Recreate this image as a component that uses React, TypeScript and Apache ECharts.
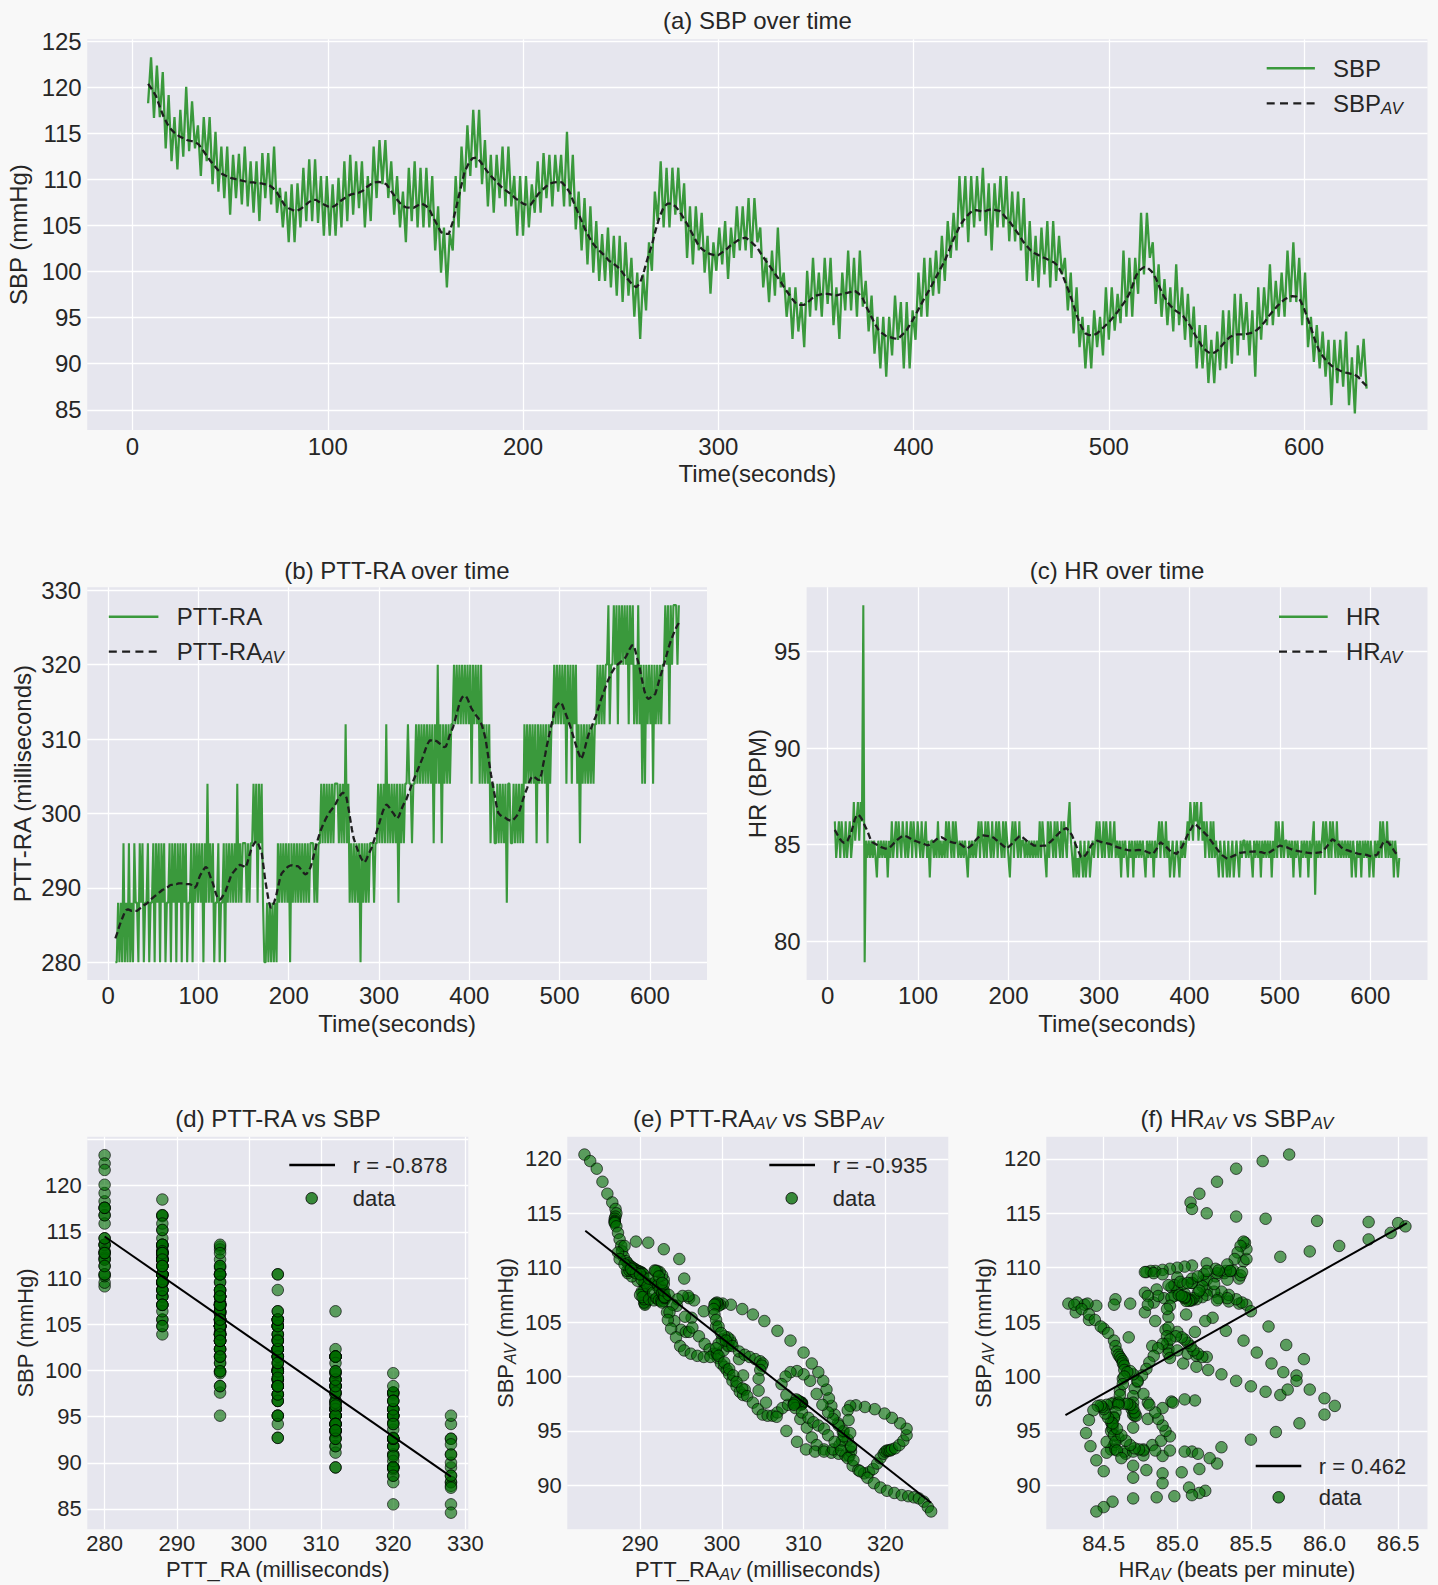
import React, { useEffect, useRef } from 'react';
import * as echarts from 'echarts';

// ---------------- DATA ----------------
const T0 = 8;          // first sample time (s)
const RAW_DT = 1.5;    // raw sample spacing (s)
const AV_DT = 2;       // averaged sample spacing (s)

const SBP = [
  118.3, 123.3, 116.7, 122.4, 116.8, 121.7, 113.4, 119.2, 112, 116.8,
  111.1, 117.6, 112.5, 120.1, 113.1, 118.5, 113.4, 115.9, 110.4, 116.8,
  112, 116.8, 109.5, 115.2, 108.7, 113.6, 108, 113.6, 106.2, 112.7,
  108, 112.8, 107.3, 113.6, 107.1, 112, 106.4, 112, 105.5, 112.9,
  108, 112.9, 107.3, 113.6, 106.4, 109.1, 104.8, 108.7, 103.2, 109.5,
  103.2, 109.6, 104.8, 111.3, 105.5, 112.2, 105.5, 112.2, 105.3, 110.4,
  103.9, 110.4, 103.9, 109.5, 103.9, 110.2, 104.8, 112, 105.5, 112.7,
  106.2, 112, 106.9, 112, 104.8, 110.4, 105.5, 113.6, 108, 114.3,
  109.5, 114.3, 108, 112, 106.2, 110.4, 104.8, 108.7, 103.2, 111.3,
  105.5, 112, 104.8, 111.3, 104.8, 111.3, 104.8, 110.4, 102.3, 107.1,
  99.9, 104.8, 98.3, 104.1, 102.3, 110.4, 104.8, 113.6, 108.7, 115.9,
  110.4, 117.6, 111.3, 117.6, 109.5, 114.3, 107.1, 112.7, 106.4, 112.7,
  108, 113.6, 107.1, 113.6, 107.1, 110.4, 103.9, 110.4, 103.9, 110.4,
  104.8, 109.5, 106.4, 112, 106.4, 112.9, 108, 112.7, 107.1, 112.7,
  108.7, 112.7, 107.1, 115.2,
  107.1, 112.7, 104.6, 108.7, 102.3, 108, 100.8, 107.1, 99.9, 105.5,
  99, 104.1, 99, 104.8, 98.3, 103.9, 97.4, 103.9, 96.7, 103.2,
  97.4, 101.5, 95.1, 99.9, 92.7, 99.7, 95.8, 103.2, 100.1, 108.7,
  105.5, 112, 104.8, 111.3, 104.8, 111.3, 106.2, 111.3, 105.5, 109.6,
  101.5, 107.1, 100.8, 107.1, 102.3, 106.4, 99.9, 103.9, 97.6, 103.2,
  100.1, 104.8, 100.8, 105.5, 99.2, 104.8, 101.5, 107.1, 102.3, 107.1,
  102.3, 108, 101.5, 108, 103.2, 104.8, 98.3, 101.5, 96.7, 102.3,
  97.4, 104.8, 98.3, 99.9, 95.1, 98.3, 92.7, 98.3, 93.5, 96.7,
  91.8, 100.1, 95.1, 101.5, 95.8, 99.9, 95.1, 101.5, 96.5, 101.5,
  94.2, 98.3, 92.7, 99.9, 95.8, 102.3, 95.8, 101.5, 95.1, 102.3,
  96.2, 99, 93.5, 97.4, 91.1, 95.1, 89.5, 95.1, 88.6, 95.1,
  90.9, 97.4, 92.6, 96.7, 89.5, 96.7, 89.5, 95.8, 92.6, 99.9,
  95.1, 101.5, 95.1, 101.5, 97.4, 102.3, 97.6, 103.9, 99, 105.5,
  101.5, 106.4, 102.3, 110.4, 104.8, 110.4, 103.2, 110.4, 104.8, 110.4,
  105.5, 111.3, 103.9, 109.6, 102.3, 109.6, 104.8,
  110.4, 104.8, 110.4, 103.3, 108.7, 103.3, 108.7, 102.3, 108, 99,
  105.5, 99, 103.9, 98.3, 104.8, 99.7, 105.5, 98.3, 105.5, 99,
  103.9, 99.7, 101.5, 95.8, 99.9, 93.3, 98.3, 91.8, 95.1, 89.5,
  94.2, 89.5, 95.8, 91.8, 95.1, 90.9, 98.3, 92.6, 98.3, 93.6,
  97.6, 94.4, 102.3, 95.1, 101.5, 95.1, 101.5, 97.6, 106.4, 99.7,
  106.4, 101.5, 103.2, 96.5, 100.8, 95.1, 99.2, 94.2, 98.3, 93.5,
  100.8, 94.2, 98.3, 92.6, 97.6, 91.8, 96.2, 89.5, 94.2, 89.5,
  94.2, 87.9, 92.6, 87.9, 93.5, 89.3, 95.8, 89.5, 95.8, 90.0,
  97.6, 90.9, 97.6, 92.6, 96.7, 90.9, 95.8, 88.6, 98.3, 92.6,
  98.3, 94.2, 100.8, 94.2, 99, 95.1, 99.9, 95.1, 102.3, 96.7,
  103.2, 96.7, 101.5, 94.2, 99.9, 91.8, 95.1, 90.2, 94.2, 89.5,
  93.5, 88.6, 92.6, 85.5, 92.6, 87.9, 92.6, 87.5, 93.5, 85.5,
  90.7, 84.6, 92, 88.6, 92.7, 87.3,
];

const PTT_RA = [
  280, 280, 288, 280, 288, 280, 296, 280, 288, 280, 296, 280, 288, 280, 296, 288, 288, 280, 296, 288, 296, 280, 288, 288, 296, 280, 288,
  288, 296, 280, 296, 288, 296, 280, 296, 288, 296, 280, 288, 288, 296, 280, 296, 288, 296, 280, 296, 288, 296, 280, 296, 288, 296, 280, 288, 288, 296, 280, 296, 288, 296, 288,
  296, 288, 296, 280, 296, 288, 304, 288, 296, 288, 296, 280, 288, 288, 296, 280, 288, 288, 296, 280,
  296, 288, 296, 288, 296, 288, 296, 288, 304, 288, 296, 288, 296, 296, 296, 288, 296, 288, 296, 296, 304, 296, 304, 288, 304, 296, 304, 288,
  280, 280, 288, 280, 288, 280, 288, 280, 288, 280,
  296, 288, 296, 288, 296, 288, 296, 288, 296, 280, 296, 288, 296, 288, 296, 288, 296, 288, 296, 288, 296, 288, 296, 288, 296, 296, 296, 288, 296, 288, 296, 296, 304, 296,
  304, 296, 304, 296, 304, 296, 304, 296, 304, 304, 304, 296, 304, 296, 304, 296, 312, 296, 304, 288, 296, 288, 296,
  288, 296, 288, 296, 280, 296, 288, 296, 288, 296, 288, 296, 296, 296, 288, 296,
  296, 304, 296, 304, 296, 304, 296, 312, 296, 304, 296, 304, 296, 304, 296, 304, 288, 304, 296, 304, 296, 304, 304, 312, 304, 304, 296, 304,
  304, 312, 304, 312, 304, 312, 304, 312, 304, 312, 304, 312, 304, 312, 296, 312, 304, 320, 304, 312, 296, 312,
  304, 312, 304, 312, 304, 312, 312, 320, 312, 320, 312, 320, 312, 320, 312, 320, 312, 320, 312, 320, 304, 320, 312, 320, 312, 320, 304, 320,
  304, 312, 304, 312, 304, 312,
  296, 304, 304, 296, 296, 304, 296, 304, 296, 304, 296, 304, 288, 304, 304, 296, 296, 304, 296, 304, 296, 304, 296, 304, 296, 312, 304, 312,
  304, 312, 304, 312, 304, 312, 296, 312, 304, 312, 304, 312, 304, 312, 296, 312, 304, 312,
  312, 320, 312, 320, 312, 320, 312, 320, 312, 320, 304, 320, 312, 320, 304, 320, 312, 320, 304, 312,
  296, 312, 304, 312, 304, 312, 304, 312, 304, 312, 304, 312,
  312, 320, 312, 320, 312, 320, 312, 320, 320, 328, 312, 320,
  320, 328, 320, 328, 312, 328, 320, 328, 320, 328, 320, 328, 312, 328, 320, 328, 312,
  320, 312, 328, 312, 320, 304, 320, 304, 320, 312, 320, 312, 320, 304, 320, 312, 320, 312, 320, 312, 320,
  320, 328, 320, 328, 312, 328, 320, 328, 328, 328, 320, 328,
];

const HR = [
  86.2, 84.3, 85.2, 86.2, 84.3, 86.2, 85.2, 84.3, 86.2, 84.3, 85.2, 86.2, 84.3, 85.2,
  87.2, 85.2, 86.2, 87.2, 85.2, 87.2, 86.2, 97.4, 78.9,
  85.2, 84.3, 85.2, 84.3, 85.2, 84.3, 85.2, 84.3, 83.3, 85.2, 84.3, 85.2, 84.3, 85.2, 84.3, 85.2, 83.3, 85.2, 84.3,
  86.2, 84.3, 85.2, 86.2, 84.3, 86.2, 85.2, 84.3, 86.2, 85.2, 84.3, 86.2, 84.3, 85.2, 86.2, 84.3, 86.2, 85.2, 84.3, 86.2, 85.2, 84.3, 86.2, 84.3, 85.2, 86.2, 84.3, 85.2, 83.3, 85.2,
  85.2, 84.3, 85.2, 84.3, 86.2, 84.3, 85.2, 84.3, 85.2, 84.3,
  86.2, 84.3, 86.2, 85.2, 84.3, 86.2, 84.3, 86.2, 85.2, 84.3,
  85.2, 84.3, 85.2, 84.3, 85.2, 84.3, 83.3, 85.2, 84.3, 85.2, 84.3, 85.2, 84.3, 85.2,
  86.2, 84.3, 86.2, 85.2, 84.3, 86.2, 84.3, 86.2, 85.2, 84.3, 86.2, 84.3, 85.2, 86.2, 84.3, 86.2, 85.2, 84.3, 86.2, 84.3, 86.2, 85.2, 84.3, 83.3, 85.2, 86.2, 84.3, 86.2, 85.2, 84.3, 86.2, 84.3, 85.2,
  85.2, 84.3, 85.2, 84.3, 85.2, 84.3, 85.2, 84.3, 85.2, 84.3, 85.2, 84.3,
  86.2, 84.3, 86.2, 85.2, 84.3, 83.3, 86.2, 84.3, 86.2, 85.2, 84.3, 86.2, 84.3, 86.2, 85.2, 84.3, 86.2, 84.3, 86.2, 85.2, 84.3, 86.2, 87.2, 85.2,
  84.3, 83.3, 85.2, 83.3, 84.3, 83.3, 85.2, 84.3, 83.3, 85.2, 83.3, 84.3, 85.2, 83.3, 84.3, 85.2, 84.3, 85.2,
  86.2, 84.3, 86.2, 85.2, 84.3, 86.2, 84.3, 86.2, 85.2, 84.3, 86.2, 84.3, 85.2, 86.2, 84.3, 85.2, 84.3,
  85.2, 83.3, 85.2, 84.3, 85.2, 84.3, 83.3, 85.2, 84.3, 85.2, 83.3, 85.2, 84.3, 85.2, 84.3, 85.2, 84.3, 85.2, 84.3, 83.3, 85.2, 84.3, 85.2, 84.3, 85.2, 83.3, 85.2, 84.3, 85.2,
  86.2, 84.3, 86.2, 85.2, 84.3, 86.2, 84.3,
  85.2, 83.3, 84.3, 85.2, 83.3, 84.3, 85.2, 84.3, 83.3, 85.2, 84.3, 85.2, 84.3, 85.2,
  86.2, 85.2, 87.2, 86.2, 85.2, 87.2, 86.2, 87.2, 85.2, 86.2, 87.2, 85.2, 86.2, 84.3, 86.2, 85.2, 84.3,
  86.2, 84.3, 86.2, 84.3, 85.2,
  84.3, 83.3, 85.2, 84.3, 83.3, 85.2, 84.3, 83.3, 85.2, 83.3, 84.3, 85.2, 83.3, 84.3, 85.2, 84.3, 83.3, 85.2, 84.3, 85.2,
  85.2, 84.3, 85.2, 84.3, 85.2, 84.3, 83.3, 85.2, 84.3, 85.2, 84.3, 85.2, 83.3, 85.2, 84.3, 85.2, 84.3, 85.2, 84.3, 85.2, 83.3, 85.2, 84.3,
  86.2, 84.3, 86.2, 85.2, 84.3, 86.2, 84.3, 85.2,
  85.2, 84.3, 85.2, 84.3, 85.2, 83.3, 85.2, 84.3, 85.2, 84.3, 83.3, 85.2, 84.3, 85.2, 84.3, 85.2, 83.3, 85.2, 84.3, 85.2,
  86.2, 82.4, 85.2, 84.3,
  85.2, 84.3, 85.2, 86.2, 84.3, 86.2, 85.2, 84.3, 86.2, 84.3, 86.2, 85.2, 84.3, 86.2, 84.3,
  85.2, 84.3, 85.2, 84.3, 85.2, 84.3, 85.2, 84.3, 85.2, 83.3, 85.2, 84.3, 83.3, 85.2, 84.3, 85.2, 83.3, 85.2, 84.3, 85.2, 84.3, 85.2, 83.3, 85.2, 84.3, 83.3, 85.2, 84.3, 85.2, 84.3,
  86.2, 84.3, 86.2, 85.2, 84.3, 86.2, 84.3, 85.2, 84.3,
  85.2, 83.3, 85.2, 84.3, 83.3, 84.3,
];

const SBP_AV = [
  120.4, 119.8, 119.1, 117.9, 116.8, 116.0, 115.4, 115.0, 114.7, 114.5,
  114.3, 114.2, 114.1, 113.8, 113.2, 112.6, 112.0, 111.5, 111.0, 110.6,
  110.4, 110.2, 110.1, 110.0, 109.9, 109.8, 109.7, 109.7, 109.6, 109.6,
  109.5, 109.4, 109.1, 108.6, 107.9, 107.2, 106.9, 106.7, 106.6, 106.8,
  107.1, 107.5, 107.8, 107.8, 107.5, 107.3, 107.1, 107.0, 107.2, 107.6,
  107.9, 108.2, 108.4, 108.5, 108.6, 108.8, 109.2, 109.5, 109.7, 109.75,
  109.7, 109.5, 108.9, 108.3, 107.7, 107.2, 107.0, 106.95, 106.95, 107.2,
  107.4, 107.2, 106.8, 105.9, 105.1, 104.3, 104.1, 104.1, 105.4, 107.2,
  109.0, 110.8, 111.7, 112.3, 112.4, 112.0, 111.4, 110.8, 110.3, 109.9,
  109.4, 109.0, 108.7, 108.4, 108.0, 107.7, 107.4, 107.25, 107.3, 107.9,
  108.5, 108.9, 109.3, 109.6, 109.7, 109.75, 109.7, 109.2, 108.6, 107.5,
  106.5, 105.5, 104.5, 103.7, 103.0, 102.5, 102.1, 101.7, 101.2, 100.9,
  100.6, 100.2, 99.6, 99.1, 98.6, 98.3, 98.8, 100.1, 101.6, 102.9,
  104.6, 106.0, 107.0, 107.4, 107.4, 107.1, 106.6, 105.9, 105.2, 104.4,
  103.6, 102.8, 102.4, 102.1, 101.9, 101.8, 101.8, 102.1, 102.4, 102.8,
  103.1, 103.4, 103.6, 103.7, 103.4, 103.0, 102.6, 101.9, 101.3, 100.7,
  100.1, 99.5, 98.9, 98.2, 97.6, 97.0, 96.5, 96.4, 96.4, 96.7,
  97.1, 97.4, 97.5, 97.6, 97.6, 97.5, 97.4, 97.5, 97.6, 97.7,
  97.8, 97.9, 97.6, 97.1, 96.1, 95.3, 94.4, 93.7, 93.3, 93.0,
  92.9, 92.75, 92.7, 93.1, 93.5, 94.2, 94.9, 95.7, 96.5, 97.3,
  98.0, 98.8, 99.6, 100.4, 101.2, 102.2, 103.3, 104.2, 105.1, 105.7,
  106.2, 106.6, 106.7, 106.6, 106.5, 106.7, 106.8, 106.7, 106.6, 106.2,
  105.7, 105.2, 104.6, 104.0, 103.3, 102.8, 102.3, 102.0, 101.8, 101.6,
  101.4, 101.2, 101.0, 100.6, 99.8, 98.7, 97.6, 96.3, 95.0, 94.0,
  93.3, 93.1, 93.1, 93.3, 93.7, 94.1, 94.5, 95.0, 95.5, 96.1,
  96.7, 97.4, 98.4, 99.6, 100.2, 100.5, 100.4, 100.0, 99.3, 98.3,
  97.4, 96.7, 96.2, 95.8, 95.5, 95.2, 94.6, 94.0, 93.2, 92.5,
  91.8, 91.4, 91.1, 91.2, 91.5, 92.0, 92.5, 92.9, 93.1, 93.2,
  93.2, 93.2, 93.3, 93.4, 93.7, 94.1, 94.6, 95.2, 95.7, 96.2,
  96.6, 97.0, 97.2, 97.35, 97.3, 96.9, 96.0, 94.8, 93.6, 92.3,
  91.3, 90.7, 90.2, 89.8, 89.5, 89.3, 89.1, 89.0, 88.9, 88.8,
  88.5, 88.0, 87.6,
];

const PTT_RA_AV = [
  283.2, 283.9, 284.7, 285.4, 286.0, 286.6, 287.0, 287.1, 287.0, 286.9,
  286.9, 286.9, 286.9, 287.1, 287.3, 287.5, 287.7, 287.8, 288.0, 288.3,
  288.5, 288.7, 288.9, 289.1, 289.3, 289.5, 289.7, 289.8, 290.0, 290.1,
  290.3, 290.4, 290.4, 290.5, 290.5, 290.6, 290.6, 290.6, 290.6, 290.5,
  290.5, 290.5, 290.4, 290.2, 290.0, 290.3, 291.1, 291.7, 292.1, 292.5,
  292.8, 292.6, 291.9, 291.2, 290.6, 289.7, 289.0, 288.5, 288.4, 288.7,
  289.1, 289.5, 290.2, 290.9, 291.6, 292.0, 292.3, 292.6, 292.9, 293.1,
  293.0, 292.9, 292.7, 293.3, 294.2, 295.0, 295.6, 296.0, 296.3, 296.0,
  295.4, 294.8, 292.9, 291.0, 289.5, 288.1, 287.3, 287.5, 288.1, 288.9,
  290.0, 291.1, 291.9, 292.2, 292.4, 292.7, 292.9, 293.0, 293.0, 292.9,
  292.9, 292.9, 292.7, 292.4, 292.1, 291.8, 291.9, 292.3, 292.7, 293.5,
  294.5, 295.5, 296.4, 297.2, 297.9, 298.5, 299.0, 299.5, 299.9, 300.3,
  300.6, 300.9, 301.3, 301.8, 302.2, 302.6, 302.8, 302.6, 302.1, 300.8,
  299.3, 297.8, 296.6, 295.9, 295.2, 294.6, 294.0, 293.6, 293.4, 293.8,
  294.4, 294.9, 295.4, 296.2, 297.0, 297.8, 298.6, 299.4, 300.2, 300.8,
  301.2, 301.0, 300.7, 300.3, 300.0, 299.6, 299.3, 299.6, 300.3, 300.9,
  301.4, 301.8, 302.5, 303.1, 303.8, 304.4, 305.0, 305.6, 306.2, 306.8,
  307.4, 308.1, 308.8, 309.4, 309.8, 309.8, 309.7, 309.8, 309.7, 309.5,
  309.3, 309.1, 308.9, 309.0, 309.6, 310.4, 311.0, 311.6, 312.5, 313.4,
  314.3, 315.1, 315.6, 315.8, 315.8, 315.4, 314.8, 314.2, 313.8, 313.4,
  313.1, 312.8, 312.4, 311.8, 311.0, 310.0, 308.4, 306.8, 305.2, 303.8,
  302.5, 301.1, 300.1, 299.8, 299.6, 299.5, 299.4, 299.2, 299.1, 299.0,
  299.1, 299.3, 299.6, 299.9, 300.5, 301.3, 302.1, 302.8, 303.4, 304.1,
  304.7, 305.0, 304.9, 304.7, 304.5, 304.5, 305.4, 306.7, 307.9, 309.2,
  310.3, 311.4, 312.5, 313.6, 314.4, 314.7, 314.9, 314.9, 314.3, 313.6,
  313.0, 312.3, 311.6, 310.8, 310.0, 309.2, 308.4, 307.8, 307.3, 307.9,
  308.8, 309.8, 310.6, 311.2, 311.8, 312.5, 313.0, 313.8, 314.6, 315.4,
  316.0, 316.7, 317.4, 318.0, 318.5, 319.0, 319.4, 319.8, 320.0, 320.2,
  320.4, 320.6, 320.8, 321.2, 321.7, 322.2, 322.6, 322.6, 321.8, 320.8,
  319.9, 318.7, 317.5, 316.4, 315.7, 315.4, 315.5, 315.7, 315.8, 316.1,
  316.9, 317.8, 318.6, 319.4, 320.2, 321.1, 322.0, 322.8, 323.5, 324.1,
  324.7, 325.2, 325.6,
];

const HR_AV = [
  85.76, 85.58, 85.4, 85.27, 85.15, 85.09, 85.1, 85.2, 85.4, 85.6,
  85.95, 86.3, 86.5, 86.55, 86.45, 86.3, 86.1, 85.9, 85.7, 85.45,
  85.2, 85.1, 85.05, 85.0, 84.95, 84.9, 84.85, 84.82, 84.79, 84.78,
  84.84, 84.9, 85.0, 85.1, 85.2, 85.28, 85.35, 85.42, 85.47, 85.44,
  85.4, 85.35, 85.3, 85.25, 85.2, 85.17, 85.13, 85.1, 85.07, 85.05,
  85.0, 84.96, 84.98, 85.04, 85.1, 85.18, 85.26, 85.32, 85.36, 85.38,
  85.33, 85.27, 85.2, 85.17, 85.14, 85.11, 85.09, 85.08, 85.06, 85.05,
  84.98, 84.91, 84.84, 84.78, 84.85, 84.92, 85.0, 85.12, 85.24, 85.34,
  85.42, 85.47, 85.47, 85.46, 85.45, 85.43, 85.41, 85.39, 85.34, 85.26,
  85.18, 85.1, 85.02, 84.94, 84.86, 84.78, 84.87, 84.96, 85.05, 85.15,
  85.25, 85.34, 85.43, 85.44, 85.36, 85.28, 85.2, 85.14, 85.07, 85.01,
  84.95, 84.94, 84.94, 84.93, 84.93, 84.94, 84.94, 84.95, 85.04, 85.13,
  85.21, 85.3, 85.4, 85.5, 85.6, 85.7, 85.75, 85.81, 85.86, 85.74,
  85.62, 85.5, 85.27, 85.03, 84.8, 84.58, 84.37, 84.31, 84.4, 84.5,
  84.67, 84.83, 85.0, 85.07, 85.13, 85.2, 85.17, 85.14, 85.11, 85.09,
  85.07, 85.05, 85.03, 84.99, 84.95, 84.9, 84.87, 84.84, 84.81, 84.79,
  84.76, 84.73, 84.71, 84.7, 84.7, 84.69, 84.7, 84.71, 84.72, 84.71,
  84.7, 84.68, 84.64, 84.6, 84.57, 84.55, 84.52, 84.66, 84.8, 84.96,
  85.12, 85.05, 84.97, 84.9, 84.8, 84.7, 84.6, 84.57, 84.55, 84.52,
  84.65, 84.77, 84.9, 85.1, 85.3, 85.5, 85.67, 85.83, 86.0, 86.07,
  86.0, 85.9, 85.81, 85.72, 85.64, 85.54, 85.45, 85.33, 85.19, 85.06,
  84.93, 84.8, 84.68, 84.57, 84.45, 84.39, 84.32, 84.26, 84.3, 84.35,
  84.4, 84.44, 84.48, 84.53, 84.57, 84.58, 84.59, 84.6, 84.61, 84.62,
  84.63, 84.63, 84.64, 84.64, 84.63, 84.61, 84.6, 84.57, 84.55, 84.52,
  84.58, 84.64, 84.7, 84.77, 84.83, 84.89, 84.95, 84.92, 84.9, 84.87,
  84.85, 84.81, 84.77, 84.73, 84.7, 84.68, 84.66, 84.64, 84.63, 84.61,
  84.6, 84.58, 84.57, 84.55, 84.56, 84.56, 84.57, 84.58, 84.59, 84.62,
  84.7, 84.79, 84.9, 85.03, 85.15, 85.27, 85.22, 85.14, 85.05, 84.95,
  84.85, 84.77, 84.74, 84.71, 84.68, 84.65, 84.62, 84.59, 84.56, 84.53,
  84.51, 84.5, 84.49, 84.48, 84.46, 84.43, 84.4, 84.38, 84.41, 84.45,
  84.5, 84.7, 84.9, 85.08, 85.19, 85.15, 85.1, 84.98, 84.86, 84.7,
  84.56, 84.5, 84.45,
];

// regression lines (end points)
const FIT_D = [[280, 114.5], [328, 88.5]];
const FIT_E = [[283.3, 113.4], [325.6, 88.4]];
const FIT_F = [[84.24, 96.45], [86.56, 114.1]];
const R_D = 'r = -0.878';
const R_E = 'r = -0.935';
const R_F = 'r = 0.462';

// tick labels
const TIME_TICKS = [0, 100, 200, 300, 400, 500, 600];
const SBP_TICKS = [85, 90, 95, 100, 105, 110, 115, 120, 125];
const PTT_TICKS = [280, 290, 300, 310, 320, 330];
const HR_TICKS = [80, 85, 90, 95];
const SBP_D_TICKS = [85, 90, 95, 100, 105, 110, 115, 120];
const PTT_AV_TICKS = [290, 300, 310, 320];
const SBP_AV_TICKS = [90, 95, 100, 105, 110, 115, 120];
const HR_AV_TICKS = [84.5, 85.0, 85.5, 86.0, 86.5];

// ---------------- STYLE ----------------
const W = 1438;
const H = 1585;
const FONT = "'Liberation Sans', Arial, Helvetica, sans-serif";
const TXT = '#262626';
const GREEN = '#3a993c';
const DARK = '#1e1e1e';
const PLOT_BG = '#e6e6ee';
const FIG_BG = '#f8f8f8';
const DOT_FILL = 'rgba(0,108,0,0.76)';
const DOT_EDGE = 'rgba(0,0,0,0.8)';

const richFor = (size: number, sub: number, lh: number, subLh: number) => ({
  n: { fontSize: size, lineHeight: lh, fontFamily: FONT, color: TXT, fill: TXT },
  s: {
    fontSize: sub, lineHeight: subLh, fontFamily: FONT, color: TXT, fill: TXT,
    fontStyle: 'italic', verticalAlign: 'bottom',
  },
});
const RICH24 = richFor(24, 17, 28, 15);
const RICH22 = richFor(22, 16, 26, 14);

const labelIf = (ticks: number[], digits: number) => (v: number) =>
  ticks.some((t) => Math.abs(t - v) < 1e-6) ? v.toFixed(digits) : '';

function axis(
  gridIndex: number, min: number, max: number, splitNumber: number,
  ticks: number[], digits: number, name: string, nameGap: number,
  fontSize: number, margin: number, rich: any, isY: boolean,
) {
  return {
    type: 'value', gridIndex, min, max, splitNumber,
    name, nameLocation: 'middle', nameGap,
    nameRotate: isY ? 90 : 0,
    nameTextStyle: { rich, fontSize, fontFamily: FONT, color: TXT },
    axisLine: { show: false }, axisTick: { show: false },
    axisLabel: {
      show: true, margin, fontSize, fontFamily: FONT, color: TXT,
      formatter: labelIf(ticks, digits),
    },
    splitLine: { show: true, showMinLine: false, showMaxLine: false, lineStyle: { color: '#ffffff', width: 1.3 } },
  };
}

const GRIDS = [
  { left: 87.2, top: 39.3, width: 1340.3, height: 390.7 },
  { left: 87.2, top: 587.3, width: 619.8, height: 392.7 },
  { left: 806.6, top: 587.3, width: 620.9, height: 392.7 },
  { left: 87.3, top: 1136.7, width: 381, height: 392.6 },
  { left: 567.3, top: 1136.7, width: 381, height: 392.6 },
  { left: 1046.3, top: 1136.7, width: 381.2, height: 392.6 },
];

function buildOption() {
  const rawT = (i: number) => T0 + i * RAW_DT;
  const avT = (j: number) => T0 + j * AV_DT;

  const grid = GRIDS.map((g) => ({
    ...g, show: true, backgroundColor: PLOT_BG, borderWidth: 0,
    containLabel: false, outerBoundsMode: 'none',
  }));

  const xAxis = [
    axis(0, -23.2, 663.2, 7, TIME_TICKS, 0, '{n|Time(seconds)}', 29.5, 24, 4, RICH24, false),
    axis(1, -23.2, 663.2, 7, TIME_TICKS, 0, '{n|Time(seconds)}', 29, 24, 3, RICH24, false),
    axis(2, -23.2, 663.2, 7, TIME_TICKS, 0, '{n|Time(seconds)}', 29, 24, 3, RICH24, false),
    axis(3, 277.6, 330.4, 5, PTT_TICKS, 0, '{n|PTT_RA (milliseconds)}', 27.5, 22, 3, RICH22, false),
    axis(4, 281.1, 327.7, 5, PTT_AV_TICKS, 0, '{n|PTT_RA}{s|AV}{n| (milliseconds)}', 27.5, 22, 3, RICH22, false),
    axis(5, 84.11, 86.70, 5, HR_AV_TICKS, 1, '{n|HR}{s|AV}{n| (beats per minute)}', 27.5, 22, 3, RICH22, false),
  ];
  const yAxis = [
    axis(0, 82.8, 125.25, 8, SBP_TICKS, 0, '{n|SBP (mmHg)}', 47, 24, 5.5, RICH24, true),
    axis(1, 277.6, 330.4, 5, PTT_TICKS, 0, '{n|PTT-RA (milliseconds)}', 51, 24, 6, RICH24, true),
    axis(2, 77.98, 98.33, 4, HR_TICKS, 0, '{n|HR (BPM)}', 35.5, 24, 6, RICH24, true),
    axis(3, 82.8, 125.3, 8, SBP_D_TICKS, 0, '{n|SBP (mmHg)}', 49, 22, 5.6, RICH22, true),
    axis(4, 85.96, 122.04, 7, SBP_AV_TICKS, 0, '{n|SBP}{s|AV}{n| (mmHg)}', 49, 22, 5.6, RICH22, true),
    axis(5, 85.96, 122.04, 7, SBP_AV_TICKS, 0, '{n|SBP}{s|AV}{n| (mmHg)}', 50, 22, 5.6, RICH22, true),
  ];

  const rawLine = (idx: number, data: number[], width: number) => ({
    type: 'line', xAxisIndex: idx, yAxisIndex: idx, silent: true,
    showSymbol: false, symbol: 'none',
    data: data.map((v, i) => [rawT(i), v]),
    lineStyle: { color: GREEN, width }, z: 2,
  });
  const avLine = (idx: number, data: number[]) => ({
    type: 'line', xAxisIndex: idx, yAxisIndex: idx, silent: true,
    showSymbol: false, symbol: 'none',
    data: data.map((v, j) => [avT(j), v]),
    lineStyle: { color: DARK, width: 2.3, type: [6.5, 3.5] }, z: 3,
  });
  const scatter = (idx: number, data: number[][]) => ({
    type: 'scatter', xAxisIndex: idx, yAxisIndex: idx, silent: true,
    symbol: 'circle', symbolSize: 11.5, data,
    itemStyle: { color: DOT_FILL, borderColor: DOT_EDGE, borderWidth: 1 },
    z: 2,
  });
  const fit = (idx: number, data: number[][]) => ({
    type: 'line', xAxisIndex: idx, yAxisIndex: idx, silent: true,
    showSymbol: false, symbol: 'none', data,
    lineStyle: { color: '#000000', width: 2 }, z: 4,
  });

  const series = [
    rawLine(0, SBP, 2.3),
    avLine(0, SBP_AV),
    rawLine(1, PTT_RA, 2.1),
    avLine(1, PTT_RA_AV),
    rawLine(2, HR, 2.1),
    avLine(2, HR_AV),
    scatter(3, PTT_RA.map((p, i) => [p, SBP[i]])),
    fit(3, FIT_D),
    scatter(4, PTT_RA_AV.map((p, j) => [p, SBP_AV[j]])),
    fit(4, FIT_E),
    scatter(5, HR_AV.map((h, j) => [h, SBP_AV[j]])),
    fit(5, FIT_F),
  ];

  const text = (x: number, y: number, t: string, rich: any, align: string) => ({
    type: 'text', x, y, z: 50, silent: true,
    style: {
      text: t, rich, fill: TXT, fontFamily: FONT, fontSize: rich.n.fontSize,
      align, verticalAlign: 'middle', textAlign: align, textVerticalAlign: 'middle',
    },
  });
  const lline = (x1: number, x2: number, y: number, dashed: boolean, color: string) => ({
    type: 'line', z: 50, silent: true,
    shape: { x1, y1: y, x2, y2: y },
    style: dashed
      ? { stroke: color, lineWidth: 2.3, lineDash: [8, 5.3] }
      : { stroke: color, lineWidth: 2.4 },
  });
  const dot = (cx: number, cy: number) => ({
    type: 'circle', z: 50, silent: true,
    shape: { cx, cy, r: 5.75 },
    style: { fill: DOT_FILL, stroke: DOT_EDGE, lineWidth: 1 },
  });

  const graphic = [
    // titles
    text(757.4, 20, '{n|(a) SBP over time}', RICH24, 'center'),
    text(397, 570, '{n|(b) PTT-RA over time}', RICH24, 'center'),
    text(1117, 570, '{n|(c) HR over time}', RICH24, 'center'),
    text(278, 1118, '{n|(d) PTT-RA vs SBP}', RICH24, 'center'),
    text(758, 1118, '{n|(e) PTT-RA}{s|AV}{n| vs SBP}{s|AV}', RICH24, 'center'),
    text(1237, 1118, '{n|(f) HR}{s|AV}{n| vs SBP}{s|AV}', RICH24, 'center'),
    // legend (a)
    lline(1266.7, 1314.9, 68.3, false, GREEN),
    text(1333, 68.3, '{n|SBP}', RICH24, 'left'),
    lline(1266.7, 1314.9, 103.3, true, DARK),
    text(1333, 103.3, '{n|SBP}{s|AV}', RICH24, 'left'),
    // legend (b)
    lline(108.8, 158.4, 616.7, false, GREEN),
    text(176.8, 616.7, '{n|PTT-RA}', RICH24, 'left'),
    lline(108.8, 158.4, 651.7, true, DARK),
    text(176.8, 651.7, '{n|PTT-RA}{s|AV}', RICH24, 'left'),
    // legend (c)
    lline(1279, 1327.7, 616.7, false, GREEN),
    text(1346, 616.7, '{n|HR}', RICH24, 'left'),
    lline(1279, 1327.7, 651.7, true, DARK),
    text(1346, 651.7, '{n|HR}{s|AV}', RICH24, 'left'),
    // legend (d)
    lline(289.3, 335, 1165, false, '#000000'),
    text(352.7, 1165, '{n|' + R_D + '}', RICH22, 'left'),
    dot(311.7, 1198.3),
    text(352.7, 1198.3, '{n|data}', RICH22, 'left'),
    // legend (e)
    lline(769.3, 815, 1165, false, '#000000'),
    text(832.7, 1165, '{n|' + R_E + '}', RICH22, 'left'),
    dot(791.7, 1198.3),
    text(832.7, 1198.3, '{n|data}', RICH22, 'left'),
    // legend (f)
    lline(1255.7, 1301.3, 1466, false, '#000000'),
    text(1318.7, 1466, '{n|' + R_F + '}', RICH22, 'left'),
    dot(1278.7, 1497.3),
    text(1318.7, 1497.3, '{n|data}', RICH22, 'left'),
  ];

  return {
    animation: false,
    backgroundColor: FIG_BG,
    textStyle: { fontFamily: FONT },
    grid, xAxis, yAxis, series, graphic,
  };
}

export default function App() {
  const ref = useRef<HTMLDivElement>(null);
  useEffect(() => {
    document.body.style.margin = '0';
    document.body.style.background = FIG_BG;
    const chart = echarts.init(ref.current as HTMLDivElement, null, { renderer: 'svg', width: W, height: H });
    chart.setOption(buildOption() as any);
    return () => chart.dispose();
  }, []);
  return <div ref={ref} style={{ position: 'absolute', left: 0, top: 0, width: W, height: H }} />;
}
